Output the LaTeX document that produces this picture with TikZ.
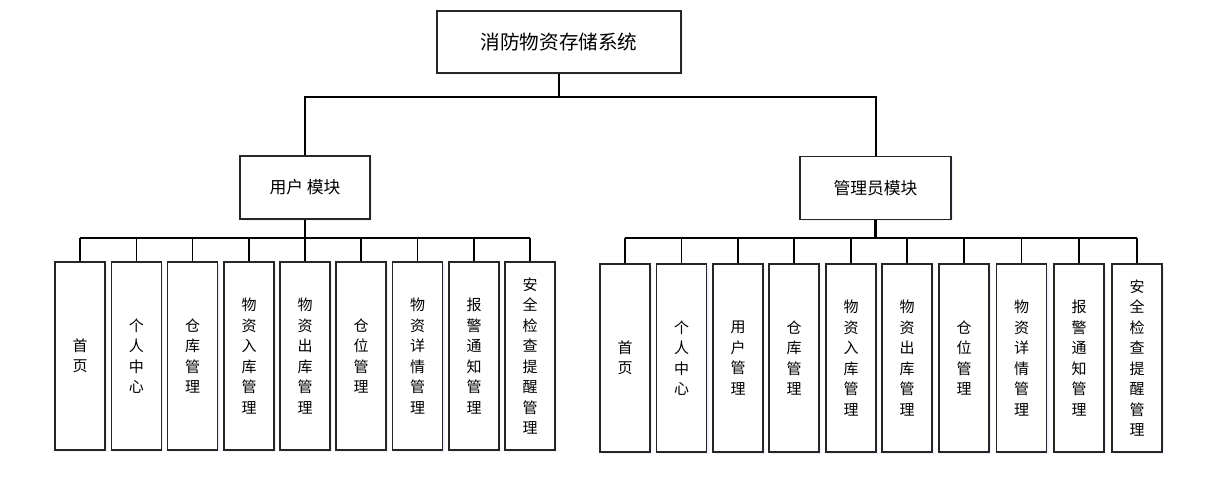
\documentclass[tikz,border=0pt]{standalone}
\usepackage{fontspec}
\newfontfamily\cjk{Noto Sans CJK SC}
\usetikzlibrary{shadows}
\begin{document}
\begin{tikzpicture}[x=1pt,y=-1pt,
  box/.style={draw=black!85,line width=1.2pt,fill=white,font=\cjk,inner sep=0pt,
    drop shadow={fill=blue!6,opacity=1,shadow xshift=2pt,shadow yshift=-2pt}},
  topbox/.style={box,minimum width=244pt,minimum height=62pt,font=\cjk\fontsize{19.6}{22}\selectfont},
  modbox/.style={box,minimum height=63pt,font=\cjk\fontsize{16.8}{18}\selectfont},
  leaf/.style={box,minimum width=50pt,minimum height=188pt,align=center,font=\cjk\fontsize{15}{20.5}\selectfont},
  bus/.style={line width=2pt,black},
  drop/.style={line width=1.4pt,black}]
\useasboundingbox (0,0) rectangle (1207,489);
\node[topbox] (top) at (559,42) {消防物资存储系统};
\node[modbox,minimum width=130pt] (user) at (305,187.5) {用户 模块};
\node[modbox,minimum width=151pt] (admin) at (875.5,188) {管理员模块};
\coordinate (b1) at (0,97);
\coordinate (b2) at (0,238);
% left leaves
\foreach \x/\t [count=\i] in {80/首\\页,136.3/个\\人\\中\\心,192.5/仓\\库\\管\\理,249/物\\资\\入\\库\\管\\理,305/物\\资\\出\\库\\管\\理,361/仓\\位\\管\\理,417.5/物\\资\\详\\情\\管\\理,474/报\\警\\通\\知\\管\\理,530/安\\全\\检\\查\\提\\醒\\管\\理}
  \node[leaf] (L\i) at (\x,356) {\t};
% right leaves
\foreach \x/\t [count=\i] in {625/首\\页,681.7/个\\人\\中\\心,738/用\\户\\管\\理,794/仓\\库\\管\\理,851/物\\资\\入\\库\\管\\理,907/物\\资\\出\\库\\管\\理,964/仓\\位\\管\\理,1021.7/物\\资\\详\\情\\管\\理,1079/报\\警\\通\\知\\管\\理,1137/安\\全\\检\\查\\提\\醒\\管\\理}
  \node[leaf] (R\i) at (\x,358) {\t};
% connectors
\draw[bus] (top.south) -- (top.south |- b1);
\draw[bus] (user.north) -- (user.north |- b1) -- (admin.north |- b1) -- (admin.north);
\draw[bus,line width=2.6pt] (user.south) -- (user.south |- b2);
\draw[bus,line width=2.6pt] (admin.south) -- (admin.south |- b2);
\draw[bus] (L1.north |- b2) -- (L9.north |- b2);
\draw[bus] (R1.north |- b2) -- (R10.north |- b2);
\foreach \i in {1,...,9} \draw[drop] (L\i.north) -- (L\i.north |- b2);
\foreach \i in {1,...,10} \draw[drop] (R\i.north) -- (R\i.north |- b2);
\end{tikzpicture}
\end{document}
